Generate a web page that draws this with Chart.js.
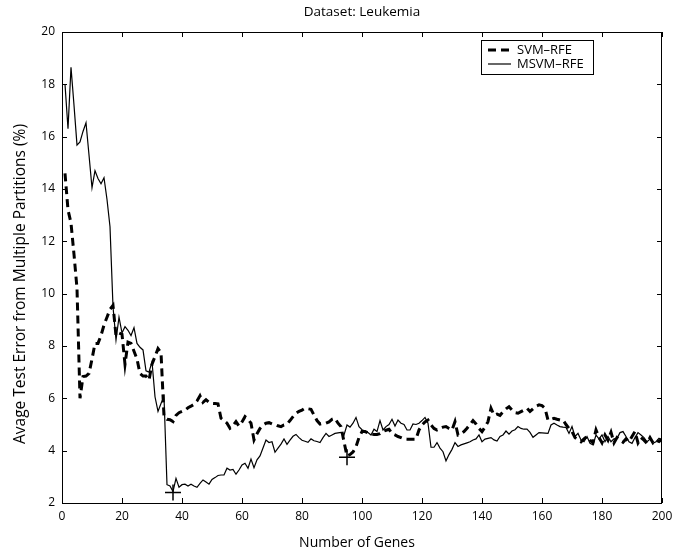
<!DOCTYPE html>
<html>
<head>
<meta charset="utf-8">
<script src="https://cdn.jsdelivr.net/npm/chart.js@4/dist/chart.umd.min.js"></script>
<style>
  html, body { margin: 0; padding: 0; background: #fff; }
  #wrap { width: 685px; height: 554px; }
</style>
</head>
<body>
<div id="wrap"><canvas id="chart" width="685" height="554"></canvas></div>
<script>
// genes 1..200 (x axis)
const genes = Array.from({ length: 200 }, (_, i) => i + 1);

const svmRfe = [
  14.6, 13.2, 12.7, 11.5, 10.2, 6.0, 6.83, 6.85, 6.95, 7.5,
  8.1, 8.1, 8.4, 8.8, 9.1, 9.4, 9.55, 8.4, 8.5, 8.45,
  7.3, 8.15, 8.1, 7.8, 7.5, 6.95, 6.85, 6.85, 6.7, 7.3,
  7.6, 7.9, 7.75, 5.3, 5.2, 5.18, 5.11, 5.35, 5.45, 5.5,
  5.55, 5.64, 5.7, 5.77, 5.9, 6.1, 5.85, 5.95, 5.85, 5.81,
  5.8, 5.79, 5.24, 5.15, 5.05, 4.86, 4.95, 5.11, 4.94, 5.1,
  5.3, 5.2, 5.05, 4.41, 4.65, 4.85, 4.98, 5.05, 5.07, 5.02,
  5.0, 4.95, 4.92, 4.98, 5.01, 5.15, 5.3, 5.43, 5.5, 5.55,
  5.62, 5.6, 5.58, 5.36, 5.15, 5.02, 5.05, 5.05, 5.1, 5.2,
  5.24, 5.05, 4.92, 4.34, 3.8, 3.85, 3.95, 4.15, 4.5, 4.73,
  4.73, 4.68, 4.64, 4.62, 4.62, 4.65, 4.73, 4.78, 4.82, 4.65,
  4.6, 4.54, 4.5, 4.45, 4.44, 4.44, 4.44, 4.44, 4.79, 4.98,
  5.1, 5.17, 4.98, 4.85, 4.79, 4.85, 4.9, 4.92, 4.85, 4.79,
  5.11, 4.6, 4.65, 4.73, 4.86, 5.0, 5.15, 5.02, 4.85, 4.73,
  4.9, 5.11, 5.62, 5.36, 5.4, 5.35, 5.49, 5.6, 5.68, 5.55,
  5.45, 5.43, 5.49, 5.55, 5.62, 5.5, 5.6, 5.7, 5.75, 5.72,
  5.62, 5.17, 5.2, 5.24, 5.2, 5.17, 5.17, 5.0, 4.85, 4.73,
  4.5, 4.41, 4.34, 4.45, 4.54, 4.4, 4.3, 4.79, 4.5, 4.3,
  4.6, 4.4, 4.7, 4.3, 4.5, 4.4, 4.32, 4.45, 4.35, 4.54,
  4.73, 4.3, 4.5, 4.4, 4.28, 4.5, 4.3, 4.4, 4.35, 4.45
];

const msvmRfe = [
  18.0, 16.3, 18.65, 17.2, 15.68, 15.8, 16.2, 16.53, 15.3, 14.05,
  14.7, 14.4, 14.2, 14.43, 13.6, 12.56, 9.5, 8.23, 9.1, 8.5,
  8.74, 8.6, 8.4, 8.7, 8.1, 7.95, 7.85, 7.05, 7.0, 7.4,
  6.06, 5.5, 5.8, 6.06, 2.7, 2.65, 2.44, 2.94, 2.6, 2.7,
  2.72, 2.65, 2.72, 2.65, 2.6, 2.75, 2.88, 2.8, 2.72, 2.9,
  2.97, 3.05, 3.07, 3.07, 3.33, 3.26, 3.28, 3.1, 3.26, 3.45,
  3.52, 3.33, 3.68, 3.35, 3.65, 3.8, 4.1, 4.41, 4.31, 4.34,
  3.94, 4.1, 4.25, 4.45, 4.24, 4.4, 4.55, 4.62, 4.5, 4.4,
  4.36, 4.32, 4.45, 4.38, 4.35, 4.31, 4.5, 4.66, 4.54, 4.6,
  4.66, 4.68, 4.7, 4.6, 4.98, 4.9, 5.05, 5.27, 4.92, 4.8,
  4.75, 4.69, 4.6, 4.82, 4.73, 5.15, 4.79, 4.92, 5.0, 5.2,
  4.94, 5.17, 5.05, 5.0, 4.79, 4.79, 5.02, 5.0, 5.05, 5.15,
  5.27, 5.05, 4.13, 4.13, 4.31, 4.1, 3.96, 3.61, 3.85, 4.05,
  4.31, 4.16, 4.22, 4.26, 4.3, 4.34, 4.41, 4.45, 4.6, 4.34,
  4.44, 4.47, 4.5, 4.41, 4.37, 4.54, 4.6, 4.75, 4.63, 4.75,
  4.8, 4.92, 4.85, 4.82, 4.82, 4.7, 4.51, 4.6, 4.69, 4.68,
  4.67, 4.66, 4.98, 5.05, 4.98, 4.92, 4.9, 4.89, 4.66, 4.92,
  4.54, 4.66, 4.41, 4.34, 4.54, 4.28, 4.22, 4.6, 4.45, 4.6,
  4.34, 4.54, 4.34, 4.45, 4.47, 4.69, 4.73, 4.54, 4.34, 4.28,
  4.5, 4.69, 4.6, 4.5, 4.34, 4.44, 4.28, 4.34, 4.47, 4.4
];

// best points marked with "+"
const bestGenes = [37, 95];
const bestErrors = [2.4, 3.75];

const xTicks = [0, 20, 40, 60, 80, 100, 120, 140, 160, 180, 200];
const yTicks = [2, 4, 6, 8, 10, 12, 14, 16, 18, 20];

const FONT = "'Open Sans', 'Liberation Sans', sans-serif";

const toPoints = (xs, ys) => xs.map((x, i) => ({ x: x, y: ys[i] }));

// box, inward ticks, titles and legend drawn like the matlab figure
const matlabFrame = {
  id: 'matlabFrame',
  afterDraw(chart) {
    const ctx = chart.ctx;
    const a = chart.chartArea;
    const xs = chart.scales.x, ys = chart.scales.y;
    ctx.save();
    ctx.strokeStyle = '#000';
    ctx.lineWidth = 1;
    ctx.strokeRect(a.left + 0.5, a.top + 0.5, a.right - a.left - 1, a.bottom - a.top);
    ctx.beginPath();
    xTicks.forEach(t => {
      const px = Math.round(xs.getPixelForValue(t)) + 0.5;
      ctx.moveTo(px, a.bottom); ctx.lineTo(px, a.bottom - 5);
      ctx.moveTo(px, a.top); ctx.lineTo(px, a.top + 5);
    });
    yTicks.forEach(t => {
      const py = Math.round(ys.getPixelForValue(t)) + 0.5;
      ctx.moveTo(a.left, py); ctx.lineTo(a.left + 5, py);
      ctx.moveTo(a.right, py); ctx.lineTo(a.right - 5, py);
    });
    ctx.stroke();

    ctx.fillStyle = '#000';
    ctx.textAlign = 'center';
    ctx.textBaseline = 'middle';

    // title
    ctx.font = '13.5px ' + FONT;
    ctx.fillText('Dataset: Leukemia', (a.left + a.right) / 2, 12);

    // axis titles
    ctx.font = '14px ' + FONT;
    ctx.fillText('Number of Genes', 357, 543);
    ctx.save();
    ctx.translate(21, 284);
    ctx.rotate(-Math.PI / 2);
    ctx.font = '15.5px ' + FONT;
    ctx.fillText('Avage Test Error from Multiple Partitions (%)', 0, 0);
    ctx.restore();

    // legend
    const lx = 481, ly = 40, lw = 112, lh = 34;
    ctx.fillStyle = '#fff';
    ctx.fillRect(lx, ly, lw, lh);
    ctx.strokeStyle = '#000';
    ctx.lineWidth = 1;
    ctx.strokeRect(lx + 0.5, ly + 0.5, lw, lh);
    const sets = chart.data.datasets.slice(0, 2);
    sets.forEach((ds, i) => {
      const y = ly + 10 + i * 14;
      ctx.beginPath();
      ctx.setLineDash(ds.borderDash || []);
      ctx.lineWidth = ds.borderWidth;
      ctx.moveTo(lx + 7, y);
      ctx.lineTo(lx + 30, y);
      ctx.stroke();
      ctx.setLineDash([]);
      ctx.fillStyle = '#000';
      ctx.font = '13px ' + FONT;
      ctx.textAlign = 'left';
      ctx.fillText(ds.label, lx + 36, y);
    });
    ctx.restore();
  }
};

new Chart(document.getElementById('chart'), {
  type: 'line',
  data: {
    datasets: [
      {
        label: 'SVM\u2013RFE',
        data: toPoints(genes, svmRfe),
        borderColor: '#000',
        borderWidth: 3,
        borderDash: [8, 5],
        pointRadius: 0,
        tension: 0
      },
      {
        label: 'MSVM\u2013RFE',
        data: toPoints(genes, msvmRfe),
        borderColor: '#000',
        borderWidth: 1.2,
        pointRadius: 0,
        tension: 0
      },
      {
        label: 'best',
        data: toPoints(bestGenes, bestErrors),
        showLine: false,
        pointStyle: 'cross',
        pointRadius: 8,
        borderColor: '#000',
        borderWidth: 1.5
      }
    ]
  },
  options: {
    responsive: false,
    animation: false,
    layout: { padding: { top: 32, right: 23, left: 0, bottom: 0 } },
    plugins: {
      legend: { display: false },
      title: { display: false },
      tooltip: { enabled: false }
    },
    scales: {
      x: {
        type: 'linear',
        min: 0,
        max: 200,
        afterFit: s => { s.height = 51; },
        afterBuildTicks: s => { s.ticks = xTicks.map(v => ({ value: v })); },
        grid: { display: false, drawTicks: false },
        border: { display: false },
        ticks: { color: '#000', font: { family: FONT, size: 12 }, padding: 6, maxRotation: 0 },
        title: { display: false }
      },
      y: {
        min: 2,
        max: 20,
        afterFit: s => { s.width = 62; },
        afterBuildTicks: s => { s.ticks = yTicks.map(v => ({ value: v })); },
        grid: { display: false, drawTicks: false },
        border: { display: false },
        ticks: { color: '#000', font: { family: FONT, size: 12 }, padding: 7 },
        title: { display: false }
      }
    }
  },
  plugins: [matlabFrame]
});
</script>
</body>
</html>
